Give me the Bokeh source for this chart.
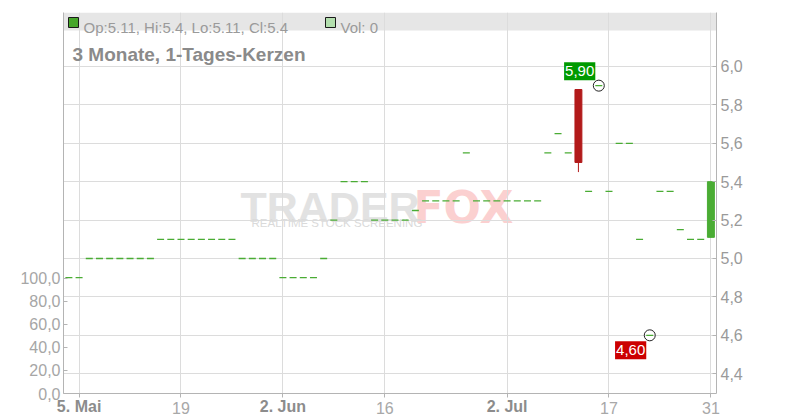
from bokeh.plotting import figure
from bokeh.models import (Range1d, LinearAxis, FixedTicker, CustomJSTickFormatter,
                          BoxAnnotation, Label, ColumnDataSource)
from bokeh.embed import file_html
from bokeh.resources import INLINE

# ---------------- data (daily candles, trading days only) ----------------
opens = [4.90, 4.90,
         5.00, 5.00, 5.00, 5.00, 5.00, 5.00, 5.00,
         5.10, 5.10, 5.10, 5.10, 5.10, 5.10, 5.10, 5.10,
         5.00, 5.00, 5.00, 5.00,
         4.90, 4.90, 4.90, 4.90,
         5.00, 5.20, 5.40, 5.40, 5.40,
         5.20, 5.20, 5.20, 5.20, 5.25,
         5.30, 5.30, 5.30, 5.30, 5.55,
         5.30, 5.30, 5.30, 5.30, 5.30, 5.30, 5.30,
         5.55, 5.65, 5.55, 5.88, 5.35, 5.90, 5.35,
         5.60, 5.60, 5.10, 4.60, 5.35, 5.35, 5.15,
         5.10, 5.10, 5.11]
highs = [4.90, 4.90,
         5.00, 5.00, 5.00, 5.00, 5.00, 5.00, 5.00,
         5.10, 5.10, 5.10, 5.10, 5.10, 5.10, 5.10, 5.10,
         5.00, 5.00, 5.00, 5.00,
         4.90, 4.90, 4.90, 4.90,
         5.00, 5.20, 5.40, 5.40, 5.40,
         5.20, 5.20, 5.20, 5.20, 5.25,
         5.30, 5.30, 5.30, 5.30, 5.55,
         5.30, 5.30, 5.30, 5.30, 5.30, 5.30, 5.30,
         5.55, 5.65, 5.55, 5.88, 5.35, 5.90, 5.35,
         5.60, 5.60, 5.10, 4.60, 5.35, 5.35, 5.15,
         5.10, 5.10, 5.40]
lows = [4.90, 4.90,
        5.00, 5.00, 5.00, 5.00, 5.00, 5.00, 5.00,
        5.10, 5.10, 5.10, 5.10, 5.10, 5.10, 5.10, 5.10,
        5.00, 5.00, 5.00, 5.00,
        4.90, 4.90, 4.90, 4.90,
        5.00, 5.20, 5.40, 5.40, 5.40,
        5.20, 5.20, 5.20, 5.20, 5.25,
        5.30, 5.30, 5.30, 5.30, 5.55,
        5.30, 5.30, 5.30, 5.30, 5.30, 5.30, 5.30,
        5.55, 5.65, 5.55, 5.45, 5.35, 5.90, 5.35,
        5.60, 5.60, 5.10, 4.60, 5.35, 5.35, 5.15,
        5.10, 5.10, 5.11]
closes = [4.90, 4.90,
          5.00, 5.00, 5.00, 5.00, 5.00, 5.00, 5.00,
          5.10, 5.10, 5.10, 5.10, 5.10, 5.10, 5.10, 5.10,
          5.00, 5.00, 5.00, 5.00,
          4.90, 4.90, 4.90, 4.90,
          5.00, 5.20, 5.40, 5.40, 5.40,
          5.20, 5.20, 5.20, 5.20, 5.25,
          5.30, 5.30, 5.30, 5.30, 5.55,
          5.30, 5.30, 5.30, 5.30, 5.30, 5.30, 5.30,
          5.55, 5.65, 5.55, 5.50, 5.35, 5.90, 5.35,
          5.60, 5.60, 5.10, 4.60, 5.35, 5.35, 5.15,
          5.10, 5.10, 5.40]
volumes = [0, 0, 0, 0, 0, 0, 0, 0, 0, 0, 0, 0, 0, 0, 0, 0,
           0, 0, 0, 0, 0, 0, 0, 0, 0, 0, 0, 0, 0, 0, 0, 0,
           0, 0, 0, 0, 0, 0, 0, 0, 0, 0, 0, 0, 0, 0, 0, 0,
           0, 0, 0, 0, 0, 0, 0, 0, 0, 0, 0, 0, 0, 0, 0, 0]

tick_pos = [1, 11, 21, 31, 43, 53, 63]
tick_labels = ["5. Mai", "19", "2. Jun", "16", "2. Jul", "17", "31"]
tick_bold = [True, False, True, False, True, False, False]
price_ticks = [4.4, 4.6, 4.8, 5.0, 5.2, 5.4, 5.6, 5.8, 6.0]
vol_ticks = [0, 20, 40, 60, 80, 100]
title_text = "3 Monate, 1-Tages-Kerzen"

# ---------------- layout helpers ----------------
X_START, X_END = -0.53, 63.55
Y_START, Y_END = 4.297, 6.281
FL, FR, FT, FB = 63, 716, 12, 393  # frame edges in page pixels
W, H = 784, 418


def xd(px):
    return X_START + (px - FL) * (X_END - X_START) / (FR - FL)


def yd(py):
    return Y_END - (py - FT) * (Y_END - Y_START) / (FB - FT)


FONT = "Liberation Sans"
UP = "#4aac34"
DOWN = "#b21a1a"

n = len(opens)
xs = list(range(n))
body = [i for i in xs if opens[i] != closes[i]]
flat = [i for i in xs if opens[i] == closes[i]]

body_src = ColumnDataSource(dict(
    x=[xs[i] for i in body],
    top=[max(opens[i], closes[i]) for i in body],
    bottom=[min(opens[i], closes[i]) for i in body],
    high=[highs[i] for i in body],
    low=[lows[i] for i in body],
    color=[UP if closes[i] >= opens[i] else DOWN for i in body],
))
flat_src = ColumnDataSource(dict(x=[xs[i] for i in flat], y=[closes[i] for i in flat]))
vol_src = ColumnDataSource(dict(x=xs, v=volumes))

p = figure(width=W, height=H,
           x_range=Range1d(X_START, X_END), y_range=Range1d(Y_START, Y_END),
           y_axis_location="right", output_backend="svg", toolbar_location=None,
           min_border_left=FL, min_border_right=W - FR, min_border_top=FT,
           min_border_bottom=H - FB)
p.outline_line_color = None
p.background_fill_color = "white"
p.border_fill_color = "white"
p.extra_y_ranges = {"vol": Range1d(0, 330)}

# header band
p.add_layout(BoxAnnotation(left=X_START, right=X_END, top=Y_END, bottom=yd(30),
                           fill_color="#e6e6e6", fill_alpha=1.0, line_color=None,
                           level="image"))

# watermark
p.add_layout(Label(x=xd(240), y=yd(206.7), text="TRADER", text_font=FONT,
                   text_font_style="bold", text_font_size="43px", text_color="#e2e2e2",
                   text_align="left", text_baseline="alphabetic", level="image"))
p.add_layout(Label(x=xd(413), y=yd(206.7), text="FOX", text_font="DejaVu Sans",
                   text_font_style="bold", text_font_size="44px", text_color="#fbd0d0",
                   text_align="left", text_baseline="alphabetic", level="image"))
p.add_layout(Label(x=xd(251), y=yd(222.3), text="REALTIME STOCK SCREENING", text_font=FONT,
                   text_font_size="11.5px", text_color="#dadada",
                   text_align="left", text_baseline="alphabetic", level="image"))

# axes
fmt = CustomJSTickFormatter(code="return tick.toFixed(1).replace('.', ',');")
ya = p.yaxis[0]
ya.ticker = FixedTicker(ticks=price_ticks)
ya.formatter = fmt
ya.minor_tick_line_color = None
ya.major_tick_in = 4
ya.major_tick_out = 0
ya.major_label_standoff = 4
ya.axis_line_color = "#b4b4b4"
ya.major_tick_line_color = "#b4b4b4"
ya.major_label_text_font = FONT
ya.major_label_text_font_size = "16px"
ya.major_label_text_color = "#9a9a9a"

va = LinearAxis(y_range_name="vol", ticker=FixedTicker(ticks=vol_ticks),
                formatter=CustomJSTickFormatter(code="return tick.toFixed(1).replace('.', ',');"))
va.minor_tick_line_color = None
va.major_tick_in = 4
va.major_tick_out = 0
va.major_label_standoff = 3
va.axis_line_color = "#b4b4b4"
va.major_tick_line_color = "#b4b4b4"
va.major_label_text_font = FONT
va.major_label_text_font_size = "16px"
va.major_label_text_color = "#a6a6a6"
p.add_layout(va, "left")

# x axis: normal day labels on the main axis ...
xa = p.xaxis[0]
xa.ticker = FixedTicker(ticks=tick_pos)
xa.major_label_overrides = {pos: ("" if b else lab)
                            for pos, lab, b in zip(tick_pos, tick_labels, tick_bold)}
xa.minor_tick_line_color = None
xa.major_tick_in = 0
xa.major_tick_out = 4
xa.major_label_standoff = 4
xa.axis_line_color = "#b4b4b4"
xa.major_tick_line_color = "#b4b4b4"
xa.major_label_text_font = FONT
xa.major_label_text_font_size = "16px"
xa.major_label_text_color = "#a8a8a8"

# ... and bold month labels on a second axis laid over it
bold_pos = [pos for pos, b in zip(tick_pos, tick_bold) if b]
bold_lab = [lab for lab, b in zip(tick_labels, tick_bold) if b]
xb = LinearAxis(ticker=FixedTicker(ticks=bold_pos),
                major_label_overrides=dict(zip(bold_pos, bold_lab)))
xb.axis_line_color = None
xb.major_tick_line_color = None
xb.minor_tick_line_color = None
xb.major_tick_in = 0
xb.major_tick_out = 0
xb.major_label_standoff = -19
xb.major_label_text_font = FONT
xb.major_label_text_font_size = "16px"
xb.major_label_text_font_style = "bold"
xb.major_label_text_color = "#8c8c8c"
p.add_layout(xb, "below")

p.xgrid.ticker = FixedTicker(ticks=tick_pos)
p.ygrid.ticker = FixedTicker(ticks=price_ticks)
p.xgrid.grid_line_color = "#dcdcdc"
p.ygrid.grid_line_color = "#dcdcdc"

# volume (all zero)
p.vbar(x="x", top="v", bottom=0, width=0.68, source=vol_src, y_range_name="vol",
       fill_color="#a8d8a0", line_alpha=0)

# candles
p.segment(x0="x", y0="low", x1="x", y1="high", color="color", line_width=1, source=body_src)
p.vbar(x="x", top="top", bottom="bottom", width=0.68, fill_color="color",
       line_color="color", line_width=1, source=body_src)
p.scatter(x="x", y="y", marker="dash", size=7, line_color=UP, line_width=1.3, source=flat_src)

# period high / low markers
hi_i = max(xs, key=lambda i: highs[i])
lo_i = min(xs, key=lambda i: lows[i])
p.scatter(x=[hi_i, lo_i], y=[highs[hi_i], lows[lo_i]], marker="circle", size=11,
          fill_alpha=0, line_color="#222222", line_width=1)
px_per_y = (FB - FT) / (Y_END - Y_START)
px_per_x = (FR - FL) / (X_END - X_START)
p.add_layout(Label(x=hi_i - 3.5 / px_per_x, y=highs[hi_i] + 5.5 / px_per_y,
                   text=f"{highs[hi_i]:.2f}".replace(".", ","), text_font=FONT,
                   text_font_size="15px", text_color="white",
                   background_fill_color="#009a00", padding=(1, 4),
                   text_align="right", text_baseline="bottom"))
p.add_layout(Label(x=lo_i - 3.5 / px_per_x, y=lows[lo_i] - 6 / px_per_y,
                   text=f"{lows[lo_i]:.2f}".replace(".", ","), text_font=FONT,
                   text_font_size="15px", text_color="white",
                   background_fill_color="#cc0000", padding=(1, 4),
                   text_align="right", text_baseline="top"))

# header legend
last = n - 1
p.scatter(x=[xd(73)], y=[yd(22)], marker="square", size=10, fill_color="#46a62a",
          line_color="#1a1a1a", line_width=1)
p.scatter(x=[xd(330)], y=[yd(22)], marker="square", size=10, fill_color="#b3dfae",
          line_color="#1a1a1a", line_width=1)
legend_text = (f"Op:{opens[last]:g}, Hi:{highs[last]:g}, "
               f"Lo:{lows[last]:g}, Cl:{closes[last]:g}")
p.add_layout(Label(x=xd(83), y=yd(27), text=legend_text, text_font=FONT,
                   text_font_size="15px", text_color="#9a9a9a",
                   text_align="left", text_baseline="alphabetic"))
p.add_layout(Label(x=xd(340), y=yd(27), text=f"Vol: {volumes[last]:g}", text_font=FONT,
                   text_font_size="15px", text_color="#9a9a9a",
                   text_align="left", text_baseline="alphabetic"))
p.add_layout(Label(x=xd(72), y=yd(54), text=title_text, text_font=FONT,
                   text_font_size="19px", text_font_style="bold", text_color="#8a8a8a",
                   text_align="left", text_baseline="alphabetic"))

open("out.html", "w").write(file_html(p, INLINE))
